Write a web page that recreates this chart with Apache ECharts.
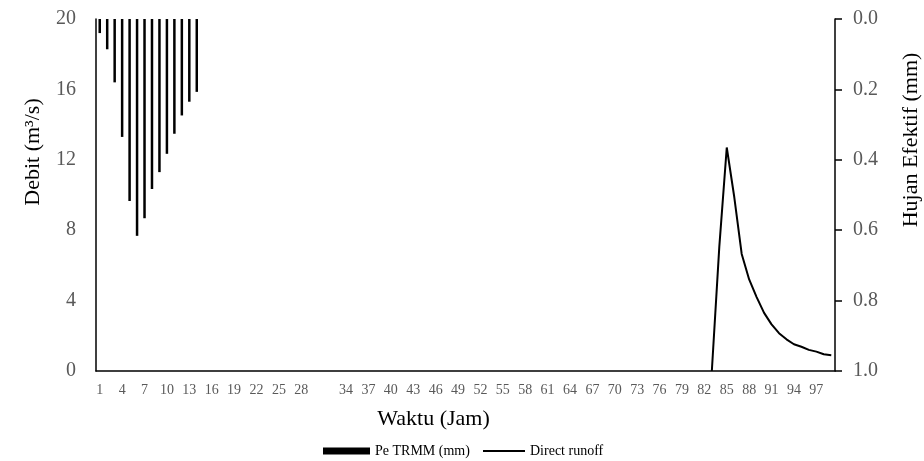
<!DOCTYPE html>
<html>
<head>
<meta charset="utf-8">
<script src="https://cdn.jsdelivr.net/npm/echarts@6/dist/echarts.min.js"></script>
<style>
  html, body { margin: 0; padding: 0; background: #fff; }
  #chart { width: 924px; height: 461px; }
</style>
</head>
<body>
<div id="chart"></div>
<script>
// Hour categories on the time axis (1 … 99)
const hours = Array.from({ length: 99 }, (_, i) => String(i + 1));

// Effective rainfall (Pe TRMM, mm) for hours 1–14, hung from the top
const peHours = ['1','2','3','4','5','6','7','8','9','10','11','12','13','14'];
const peTrmm = [0.04, 0.086, 0.18, 0.335, 0.517, 0.616, 0.566, 0.483, 0.435, 0.383, 0.326, 0.274, 0.235, 0.207];

// Direct runoff hydrograph (m³/s) for hours 83–99
const runoffHours = ['83','84','85','86','87','88','89','90','91','92','93','94','95','96','97','98','99'];
const runoff = [0, 7.05, 12.7, 9.9, 6.65, 5.2, 4.2, 3.3, 2.65, 2.15, 1.8, 1.52, 1.38, 1.2, 1.1, 0.95, 0.9];

// Axis ticks
const debitTicks = { min: 0, max: 20, interval: 4 };
const rainTicks = { min: 0, max: 1, interval: 0.2 };

const serif = '"Liberation Serif", "Times New Roman", serif';
const tickGrey = '#595959';

const chart = echarts.init(document.getElementById('chart'), null, { renderer: 'canvas' });

const legendText = { fontFamily: serif, fontSize: 14, color: '#000' };

chart.setOption({
  animation: false,
  backgroundColor: '#fff',
  textStyle: { fontFamily: serif },
  grid: { left: 96, right: 89, top: 19, bottom: 90, containLabel: false, outerBoundsMode: 'none' },
  legend: [
    {
      left: 318,
      top: 439,
      itemWidth: 47,
      itemHeight: 7,
      itemGap: 0,
      textStyle: legendText,
      data: [{ name: 'Pe TRMM (mm)', icon: 'rect' }]
    },
    {
      left: 478,
      top: 439,
      itemWidth: 42,
      itemHeight: 2,
      itemGap: 0,
      textStyle: legendText,
      data: [{ name: 'Direct runoff', icon: 'rect' }]
    }
  ],
  xAxis: {
    type: 'category',
    data: hours,
    boundaryGap: true,
    name: 'Waktu (Jam)',
    nameLocation: 'middle',
    nameGap: 37,
    nameTextStyle: { fontFamily: serif, fontSize: 22, color: '#000', padding: [0, 64, 0, 0] },
    axisLine: { show: true, lineStyle: { color: '#000', width: 1.5 } },
    axisTick: { show: false },
    axisLabel: {
      fontFamily: serif,
      fontSize: 14,
      color: tickGrey,
      margin: 12,
      interval: (idx) => idx % 3 === 0 && idx !== 30
    },
    splitLine: { show: false }
  },
  yAxis: [
    {
      type: 'value',
      position: 'left',
      min: debitTicks.min,
      max: debitTicks.max,
      interval: debitTicks.interval,
      name: 'Debit (m³/s)',
      nameLocation: 'middle',
      nameRotate: 90,
      nameGap: 52,
      nameTextStyle: { fontFamily: serif, fontSize: 22, color: '#000', padding: [0, 0, 0, 86] },
      axisLine: { show: true, lineStyle: { color: '#000', width: 1.5 } },
      axisTick: { show: false },
      axisLabel: { fontFamily: serif, fontSize: 20, color: tickGrey, margin: 20 },
      splitLine: { show: false }
    },
    {
      type: 'value',
      position: 'right',
      inverse: true,
      min: rainTicks.min,
      max: rainTicks.max,
      interval: rainTicks.interval,
      name: 'Hujan Efektif (mm)',
      nameLocation: 'middle',
      nameRotate: 90,
      nameGap: 65,
      nameTextStyle: { fontFamily: serif, fontSize: 22, color: '#000', padding: [0, 0, 0, 110] },
      axisLine: { show: true, lineStyle: { color: '#000', width: 1.5 } },
      axisTick: { show: true, inside: false, length: 7, lineStyle: { color: '#000', width: 1.5 } },
      axisLabel: {
        fontFamily: serif,
        fontSize: 20,
        color: tickGrey,
        margin: 18,
        formatter: (v) => v.toFixed(1)
      },
      splitLine: { show: false }
    }
  ],
  series: [
    {
      name: 'Pe TRMM (mm)',
      type: 'bar',
      yAxisIndex: 1,
      barWidth: 2.5,
      itemStyle: { color: '#000' },
      data: peHours.map((h, i) => [h, peTrmm[i]])
    },
    {
      name: 'Direct runoff',
      type: 'line',
      yAxisIndex: 0,
      symbol: 'none',
      smooth: false,
      lineStyle: { color: '#000', width: 2 },
      itemStyle: { color: '#000' },
      data: runoffHours.map((h, i) => [h, runoff[i]])
    }
  ]
});
</script>
</body>
</html>
